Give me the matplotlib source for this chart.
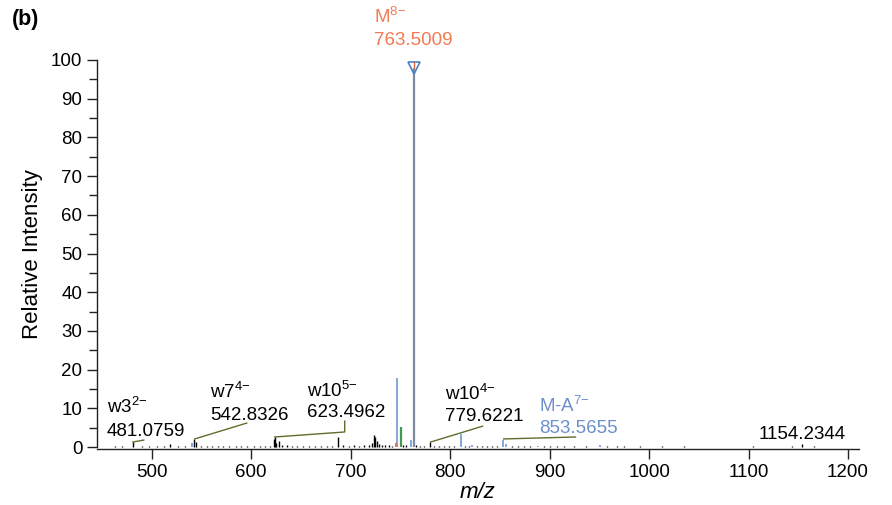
import matplotlib
matplotlib.use("Agg")
import matplotlib.pyplot as plt

plt.rcParams['font.family'] = ['Liberation Sans', 'DejaVu Sans']
plt.rcParams['mathtext.fontset'] = 'custom'
plt.rcParams['mathtext.rm'] = 'Liberation Sans'
plt.rcParams['mathtext.it'] = 'Liberation Sans:italic'
plt.rcParams['mathtext.default'] = 'regular'

# ---------------- data ----------------
# main precursor peak
main_mz = 763.5009
main_int = 98.0

# coloured peaks
blue_mz = [540.0, 746.2, 760.3, 810.6, 822.3, 853.6, 856.0, 888.0, 951.0]
blue_int = [1.0, 17.8, 1.8, 3.4, 0.6, 1.8, 0.8, 0.4, 0.6]
green_mz = [750.3]
green_int = [5.3]
red_mz = [745.2]
red_int = [1.0]

# black fragment / noise peaks
black_mz = [463.0, 470.0, 481.1, 490.0, 497.0, 505.0, 512.0, 518.0, 526.0, 533.0,
            542.8, 544.5, 550.0, 556.0, 561.0, 567.0, 572.0, 578.0, 585.0, 590.0,
            596.0, 603.0, 609.0, 614.0, 619.0, 622.5, 623.5, 625.0, 627.5, 631.0,
            636.0, 641.0, 646.0, 652.0, 658.0, 664.0, 670.0, 676.0, 681.0, 686.9,
            692.0, 698.0, 703.0, 708.0, 713.0, 718.0, 721.0, 723.5, 724.5, 726.0,
            728.0, 731.0, 735.0, 739.0, 742.0, 753.0, 756.0, 766.0, 770.0, 774.0,
            779.6, 784.0, 789.0, 794.0, 799.0, 804.0, 815.0, 819.0, 827.0, 832.0,
            837.0, 842.0, 847.0, 862.0, 868.0, 874.0, 880.0, 894.0, 900.0, 907.0,
            914.0, 925.0, 937.0, 958.0, 968.0, 975.0, 991.0, 1013.0, 1035.0, 1104.0,
            1144.0, 1154.2, 1166.0]
black_int = [0.3, 0.3, 1.3, 0.3, 0.3, 0.3, 0.4, 0.8, 0.3, 0.3,
             2.0, 1.2, 0.4, 0.3, 0.3, 0.4, 0.3, 0.3, 0.4, 0.3,
             0.3, 0.4, 0.3, 0.3, 0.4, 2.2, 2.6, 1.0, 1.5, 0.6,
             0.5, 0.4, 0.4, 0.3, 0.4, 0.3, 0.4, 0.3, 0.4, 2.5,
             0.5, 0.4, 0.5, 0.4, 0.5, 0.6, 1.0, 3.2, 2.6, 1.6,
             0.9, 0.5, 0.6, 0.5, 0.4, 0.6, 0.5, 0.5, 0.4, 0.4,
             1.3, 0.4, 0.4, 0.3, 0.4, 0.3, 0.4, 0.4, 0.3, 0.3,
             0.4, 0.3, 0.3, 0.4, 0.3, 0.3, 0.3, 0.3, 0.3, 0.3,
             0.3, 0.3, 0.3, 0.3, 0.3, 0.3, 0.3, 0.3, 0.3, 0.3,
             0.3, 0.8, 0.3]

# annotations
ann_names = ['w3', 'w7', 'w10', 'w10', 'M-A', 'M']
ann_charges = ['2', '4', '5', '4', '7', '8']
ann_mz = [481.0759, 542.8326, 623.4962, 779.6221, 853.5655, 763.5009]
lone_label_mz = 1154.2344

x_ticks = [500, 600, 700, 800, 900, 1000, 1100, 1200]
y_ticks = [0, 10, 20, 30, 40, 50, 60, 70, 80, 90, 100]

# ---------------- styles / layout ----------------
C_BLUE = '#6f97d6'
C_GREEN = '#3f9a52'
C_RED = '#e8643c'
C_MAIN = '#7e8aa2'
C_LEAD = '#5e6e2c'
C_ORANGE = '#f07a52'
C_LABBLUE = '#6c8fce'

FS = 13.5

fig = plt.figure(figsize=(8.92, 5.05), dpi=100)
ax = fig.add_axes([97 / 892, (505 - 449) / 505, (859 - 97) / 892, (449 - 60) / 505])

ax.vlines(black_mz, 0, black_int, color='black', lw=1.0)
ax.vlines(blue_mz, 0, blue_int, color=C_BLUE, lw=1.2)
ax.vlines(green_mz, 0, green_int, color=C_GREEN, lw=1.6)
ax.vlines(red_mz, 0, red_int, color=C_RED, lw=1.2)
ax.vlines([main_mz], 0, [main_int], color=C_MAIN, lw=1.6)
ax.plot([main_mz], [main_int], marker='v', ms=8, mfc='none', mec='#4a80c4',
        mew=1.2, clip_on=False, zorder=5)
ax.plot([main_mz], [main_int + 0.6], marker='|', ms=4, color=C_RED, mew=1.0,
        clip_on=False, zorder=6)

ax.set_xlim(445, 1211)
ax.set_ylim(-0.5, 100)

# label layout: (x text left, label baseline y, number baseline y, colour)
layout = [
    (454.8, 8.8, 2.9, 'black'),
    (558.3, 12.7, 7.0, 'black'),
    (655.8, 12.9, 7.75, 'black'),
    (795.2, 12.1, 6.8, 'black'),
    (889.0, 9.1, 3.6, C_LABBLUE),
    (723.0, 109.6, 103.9, C_ORANGE),
]
for name, ch, mz, (lx, ly1, ly2, col) in zip(ann_names, ann_charges, ann_mz, layout):
    ax.text(lx, ly1, name + r'$^{' + ch + r'{-}}$', fontsize=FS, color=col,
            ha='left', va='baseline', clip_on=False)
    ax.text(lx, ly2, f'{mz:.4f}', fontsize=FS, color=col,
            ha='left', va='baseline', clip_on=False)
ax.text(1110, 2.1, f'{lone_label_mz:.4f}', fontsize=FS, color='black',
        ha='left', va='baseline')

# leader lines
leaders = [
    ([481.0, 492.0], [1.3, 1.8]),
    ([543.2, 595.5], [2.1, 6.2]),
    ([623.6, 694.0, 694.0], [2.6, 3.9, 6.7]),
    ([780.4, 832.7], [1.3, 5.4]),
    ([853.8, 926.0], [2.1, 2.6]),
]
for xs, ys in leaders:
    ax.plot(xs, ys, color=C_LEAD, lw=1.0)

# axes styling
for s in ['top', 'right']:
    ax.spines[s].set_visible(False)
ax.spines['left'].set_bounds(0, 100)
ax.spines['left'].set_linewidth(1.0)
ax.spines['bottom'].set_linewidth(1.0)
ax.spines['left'].set_color('#222222')
ax.spines['bottom'].set_color('#222222')

ax.set_xticks(x_ticks)
ax.set_xticklabels([str(t) for t in x_ticks])
ax.set_yticks(y_ticks)
ax.set_yticklabels([str(t) for t in y_ticks])
ax.set_yticks([5, 15, 25, 35, 45, 55, 65, 75, 85, 95], minor=True)
ax.tick_params(axis='both', which='major', labelsize=FS, direction='out',
               length=7.5, width=1.0, color='#222222', pad=3)
ax.tick_params(axis='y', which='minor', length=6, width=1.0, color='#222222')

ax.set_ylabel('Relative Intensity', fontsize=16, labelpad=6)
ax.set_xlabel('m/z', fontsize=16, style='italic', labelpad=1)

fig.text(12 / 892, 1 - 25 / 505, '(b)', fontsize=15.5, fontweight='bold',
         ha='left', va='baseline')

fig.savefig('out.png', dpi=100)
